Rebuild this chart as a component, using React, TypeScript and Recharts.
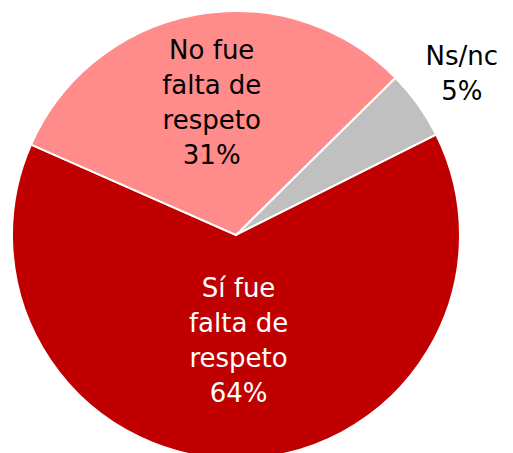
import { Pie, PieChart, Cell } from "recharts";

const labels = ["Ns/nc", "Sí fue falta de respeto", "No fue falta de respeto"];
const lines = [["Ns/nc"], ["Sí fue", "falta de", "respeto"], ["No fue", "falta de", "respeto"]];
const values = [5, 64, 31];
const colors = ["#C0C0C0", "#C00000", "#FF8B8B"];
const textColors = ["#000000", "#FFFFFF", "#000000"];
// distance of each label from the center, as a share of the radius
const labelRadius = [1.24, 0.47, 0.6];

const data = labels.map((name, i) => ({ name, value: values[i] }));

const RADIAN = Math.PI / 180;
const LINE_H = 35;

function renderLabel(props: any) {
  const { cx, cy, midAngle, outerRadius, index, value } = props;
  const r = outerRadius * labelRadius[index];
  const x = cx + r * Math.cos(-midAngle * RADIAN);
  const y = cy + r * Math.sin(-midAngle * RADIAN);
  const rows = [...lines[index], `${value}%`];
  const top = y - ((rows.length - 1) * LINE_H) / 2;
  return (
    <text
      x={x}
      y={top}
      fill={textColors[index]}
      textAnchor="middle"
      dominantBaseline="central"
      fontFamily="'DejaVu Sans', sans-serif"
      fontSize={26}
    >
      {rows.map((row, i) => (
        <tspan key={i} x={x} y={top + i * LINE_H}>
          {row}
        </tspan>
      ))}
    </text>
  );
}

export default function App() {
  return (
    <div style={{ position: "absolute", left: 0, top: 0, background: "#fff" }}>
      <PieChart width={513} height={453} margin={{ top: 0, right: 0, bottom: 0, left: 0 }}>
        <Pie
          data={data}
          dataKey="value"
          cx={236}
          cy={235}
          outerRadius={224}
          startAngle={44.6}
          endAngle={-315.4}
          stroke="#FFFFFF"
          strokeWidth={2}
          label={renderLabel}
          labelLine={false}
          isAnimationActive={false}
        >
          {data.map((d, i) => (
            <Cell key={d.name} fill={colors[i]} />
          ))}
        </Pie>
      </PieChart>
    </div>
  );
}
